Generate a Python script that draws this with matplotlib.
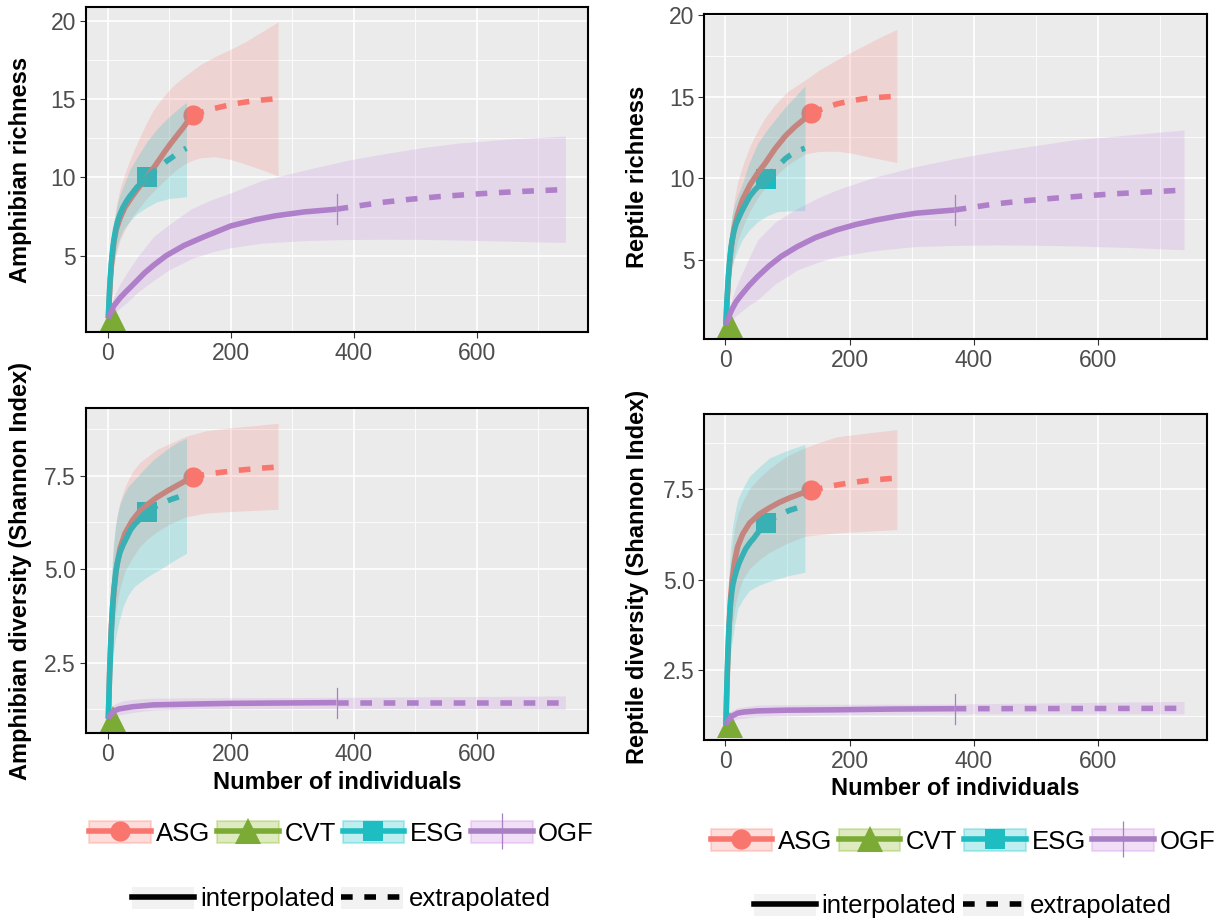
import matplotlib
matplotlib.use('Agg')
import matplotlib.pyplot as plt
from matplotlib.patches import Patch
from matplotlib.lines import Line2D
from matplotlib.legend_handler import HandlerTuple
from matplotlib.ticker import FixedLocator, FixedFormatter

plt.rcParams['font.family'] = ['Liberation Sans', 'DejaVu Sans']

# ---------------- data ----------------
sites = ['ASG', 'CVT', 'ESG', 'OGF']
methods = ['interpolated', 'extrapolated']
line_colors = ['#F8766D', '#7BAA35', '#1DBDC2', '#A97FC4']
band_colors = ['#F8766D', '#7CAE00', '#00BFC4', '#C882E1']
x_ticks = [0, 200, 400, 600]
x_ticklabels = ['0', '200', '400', '600']
rich_ticks = [5, 10, 15, 20]
rich_ticklabels = ['5', '10', '15', '20']
div_ticks = [2.5, 5.0, 7.5]
div_ticklabels = ['2.5', '5.0', '7.5']

# Amphibian richness
amph_rich_ASG = dict(
    ix=[1, 2, 4, 6, 8, 10, 14, 20, 28, 40, 52, 64, 78, 91, 102, 113, 124, 132, 138],
    iy=[1, 1.9, 3.3, 4.4, 5.2, 5.9, 6.7, 7.4, 8.1, 8.8, 9.45, 10.05, 10.8, 11.55, 12.15, 12.7, 13.25, 13.7, 14.0],
    ex=[138, 156, 174, 196, 217, 234, 250, 264, 276],
    ey=[14.0, 14.22, 14.42, 14.62, 14.78, 14.88, 14.95, 15.0, 15.05],
    cx=[1, 3, 5, 8, 10, 15, 20, 31, 40, 50, 62, 74, 87, 100, 112, 124, 138, 150, 174, 200, 224, 250, 277],
    lo=[1, 1.8, 2.6, 3.8, 4.4, 5.3, 6.0, 6.9, 7.5, 8.0, 8.6, 9.1, 9.6, 10.1, 10.5, 10.85, 11.1, 11.25,
        11.33, 11.15, 10.85, 10.5, 10.1],
    hi=[1, 3.5, 5.0, 6.5, 7.2, 8.4, 9.3, 10.6, 11.5, 12.4, 13.4, 14.3, 15.0, 15.6, 16.05, 16.44, 16.85,
        17.2, 17.72, 18.2, 18.68, 19.3, 19.95])
amph_rich_CVT = dict(ix=[1, 8], iy=[1, 1], ex=[8, 16], ey=[1, 1],
                     cx=[1, 16], lo=[1, 1], hi=[1, 1])
amph_rich_ESG = dict(
    ix=[1, 2, 3, 4, 6, 8, 10, 13, 16, 20, 25, 30, 36, 42, 48, 56, 64],
    iy=[1, 1.9, 2.8, 3.5, 4.6, 5.4, 6.0, 6.7, 7.2, 7.65, 8.1, 8.45, 8.8, 9.1, 9.4, 9.7, 10.0],
    ex=[64, 72, 80, 88, 96, 104, 112, 120, 128],
    ey=[10.0, 10.3, 10.55, 10.8, 11.05, 11.27, 11.5, 11.7, 11.87],
    cx=[1, 2, 4, 6, 10, 15, 20, 26, 36, 48, 64, 80, 100, 115, 128],
    lo=[1, 1.5, 2.6, 3.5, 4.6, 5.6, 6.2, 6.7, 7.2, 7.7, 8.1, 8.45, 8.65, 8.72, 8.77],
    hi=[1, 2.5, 4.3, 5.6, 7.0, 8.2, 8.9, 9.5, 10.5, 11.3, 12.3, 13.1, 13.9, 14.4, 14.8])
amph_rich_OGF = dict(
    ix=[1, 5, 10, 20, 31, 45, 60, 75, 95, 124, 156, 200, 240, 273, 320, 372],
    iy=[1, 1.4, 1.8, 2.3, 2.75, 3.3, 3.9, 4.4, 5.0, 5.65, 6.2, 6.9, 7.3, 7.55, 7.8, 7.97],
    ex=[372, 410, 447, 490, 540, 590, 634, 680, 727, 744],
    ey=[7.97, 8.2, 8.41, 8.6, 8.78, 8.92, 9.03, 9.12, 9.2, 9.23],
    cx=[1, 5, 10, 20, 31, 50, 74, 100, 136, 170, 199, 250, 323, 390, 447, 510, 571, 650, 744],
    lo=[1, 1.15, 1.3, 1.65, 2.0, 2.7, 3.4, 4.1, 4.8, 5.25, 5.5, 5.8, 5.97, 6.03, 6.05, 6.04, 6.0, 5.93, 5.84],
    hi=[1, 1.8, 2.4, 3.2, 3.9, 5.0, 6.2, 7.0, 8.0, 8.6, 9.0, 9.8, 10.5, 11.1, 11.5, 11.9, 12.2, 12.45, 12.65])

# Amphibian diversity
amph_div_ASG = dict(
    ix=[1, 2, 3, 4, 6, 8, 10, 14, 20, 28, 40, 52, 64, 80, 100, 120, 138],
    iy=[1, 1.6, 2.2, 2.7, 3.5, 4.0, 4.4, 5.0, 5.55, 5.95, 6.3, 6.55, 6.72, 6.92, 7.12, 7.3, 7.47],
    ex=[138, 155, 170, 190, 210, 230, 250, 276], ey=[7.47, 7.52, 7.56, 7.6, 7.64, 7.67, 7.7, 7.73],
    cx=[1, 2, 3, 4, 6, 8, 10, 14, 20, 28, 40, 52, 64, 80, 100, 127, 160, 200, 240, 277],
    lo=[1, 1.3, 1.6, 2.0, 2.6, 3.0, 3.4, 4.0, 4.5, 4.95, 5.3, 5.6, 5.8, 6.0, 6.2, 6.4, 6.5, 6.54, 6.57, 6.6],
    hi=[1, 2.2, 3.0, 3.7, 4.6, 5.2, 5.7, 6.3, 6.8, 7.2, 7.6, 7.85, 8.0, 8.2, 8.35, 8.55, 8.7, 8.78, 8.84, 8.9])
amph_div_CVT = dict(ix=[1, 8], iy=[1, 1], ex=[8, 16], ey=[1, 1],
                    cx=[1, 16], lo=[1, 1], hi=[1, 1])
amph_div_ESG = dict(
    ix=[1, 2, 3, 4, 5, 6, 8, 10, 13, 16, 20, 25, 31, 37, 44, 50, 57, 64],
    iy=[1, 1.6, 2.15, 2.6, 3.0, 3.4, 4.0, 4.45, 4.9, 5.2, 5.45, 5.65, 5.85, 6.05, 6.2, 6.3, 6.43, 6.54],
    ex=[64, 77, 90, 104, 117, 128], ey=[6.54, 6.67, 6.78, 6.87, 6.94, 7.0],
    cx=[1, 2, 3, 4, 6, 9, 12, 15, 18.5, 25, 33, 43, 58, 74, 88, 100, 115, 128],
    lo=[1, 1.25, 1.5, 1.75, 2.2, 2.7, 3.1, 3.35, 3.6, 4.0, 4.3, 4.53, 4.72, 4.89, 5.02, 5.15, 5.3, 5.42],
    hi=[1, 2.3, 3.2, 3.9, 4.8, 5.6, 6.1, 6.4, 6.67, 6.95, 7.2, 7.38, 7.65, 7.92, 8.1, 8.25, 8.4, 8.5])
amph_div_OGF = dict(
    ix=[1, 3, 5, 8, 12, 18, 25, 40, 74, 130, 199, 280, 372],
    iy=[1, 1.07, 1.12, 1.18, 1.22, 1.26, 1.28, 1.32, 1.37, 1.39, 1.41, 1.42, 1.43],
    ex=[372, 558, 744], ey=[1.43, 1.43, 1.43],
    cx=[1, 5, 12, 25, 50, 74, 150, 372, 744],
    lo=[1, 1.04, 1.08, 1.12, 1.19, 1.23, 1.26, 1.28, 1.25],
    hi=[1, 1.3, 1.4, 1.48, 1.53, 1.55, 1.56, 1.57, 1.61])

# Reptile richness
rept_rich_ASG = dict(
    ix=[1, 2, 3, 5, 7, 10, 14, 20, 28, 40, 52, 64, 80, 97, 112, 128, 138],
    iy=[1, 1.9, 2.6, 3.9, 4.9, 5.9, 6.9, 7.8, 8.7, 9.6, 10.3, 10.9, 11.8, 12.6, 13.15, 13.65, 14.0],
    ex=[138, 160, 180, 200, 220, 240, 260, 276], ey=[14.0, 14.3, 14.55, 14.72, 14.85, 14.93, 14.98, 15.02],
    cx=[1, 3, 5, 8, 10, 15, 20, 30, 40, 52, 64, 80, 100, 128, 150, 179, 204, 230, 250, 276],
    lo=[1, 2.0, 2.8, 3.8, 4.4, 5.4, 6.2, 7.2, 8.0, 8.8, 9.4, 10.1, 10.8, 11.48, 11.63, 11.65, 11.52,
        11.3, 11.15, 10.95],
    hi=[1, 3.6, 5.0, 6.6, 7.5, 8.8, 9.8, 11.0, 12.0, 12.9, 13.7, 14.5, 15.3, 16.0, 16.6, 17.24, 17.75,
        18.26, 18.65, 19.12])
rept_rich_CVT = dict(ix=[1, 8], iy=[1, 1], ex=[8, 16], ey=[1, 1],
                     cx=[1, 16], lo=[1, 1], hi=[1, 1])
rept_rich_ESG = dict(
    ix=[1, 2, 3, 4, 5, 7, 9, 11, 14, 17, 20, 25, 31, 39, 47, 56, 65],
    iy=[1, 2.0, 2.75, 3.4, 4.0, 5.0, 5.7, 6.2, 6.75, 7.15, 7.43, 7.85, 8.3, 8.86, 9.25, 9.6, 9.94],
    ex=[65, 73, 80, 89, 97, 105, 113, 121, 128],
    ey=[9.94, 10.3, 10.6, 10.9, 11.2, 11.42, 11.6, 11.73, 11.83],
    cx=[1, 2, 4, 7, 10, 14, 20, 27, 38, 52, 68, 84, 100, 115, 128],
    lo=[1, 1.6, 2.3, 3.6, 4.4, 4.98, 5.6, 6.2, 6.8, 7.33, 7.7, 7.94, 7.98, 8.0, 8.0],
    hi=[1, 2.8, 4.5, 6.5, 7.6, 8.3, 8.95, 9.6, 10.9, 12.13, 13.0, 13.77, 14.5, 15.1, 15.65])
rept_rich_OGF = dict(
    ix=[1, 5, 10, 17, 25, 38, 52, 70, 90, 116, 145, 179, 210, 243, 275, 306, 340, 369],
    iy=[1, 1.45, 1.9, 2.4, 2.8, 3.4, 3.96, 4.6, 5.2, 5.8, 6.35, 6.82, 7.15, 7.43, 7.65, 7.84, 7.95, 8.04],
    ex=[369, 400, 433, 480, 528, 576, 624, 672, 722, 738],
    ey=[8.04, 8.22, 8.41, 8.6, 8.76, 8.9, 9.03, 9.13, 9.23, 9.26],
    cx=[1, 5, 10, 17, 25, 38, 52, 80, 116, 150, 179, 240, 306, 370, 433, 500, 560, 650, 738],
    lo=[1, 1.1, 1.3, 1.55, 1.8, 2.2, 2.53, 3.5, 4.37, 4.85, 5.18, 5.55, 5.8, 5.87, 5.9, 5.88, 5.84, 5.74, 5.6],
    hi=[1, 1.9, 2.5, 3.3, 4.0, 5.1, 6.2, 7.3, 8.15, 8.8, 9.27, 10.05, 10.7, 11.2, 11.62, 12.0, 12.34, 12.65,
        12.95])

# Reptile diversity
rept_div_ASG = dict(
    ix=[1, 2, 3, 4, 6, 8, 11, 15, 20, 28, 39, 55, 71, 87, 103, 120, 138],
    iy=[1, 1.7, 2.3, 2.8, 3.7, 4.4, 5.0, 5.5, 5.91, 6.25, 6.55, 6.8, 6.97, 7.12, 7.24, 7.35, 7.45],
    ex=[138, 160, 180, 205, 230, 255, 276], ey=[7.45, 7.53, 7.6, 7.67, 7.72, 7.76, 7.79],
    cx=[1, 2, 3, 4, 6, 8, 11, 15, 20, 28, 39, 55, 71, 100, 128, 150, 179, 230, 276],
    lo=[1, 1.3, 1.7, 2.1, 2.7, 3.2, 3.7, 4.2, 4.6, 5.0, 5.3, 5.55, 5.75, 6.0, 6.19, 6.23, 6.28, 6.33, 6.37],
    hi=[1, 2.2, 3.0, 3.7, 4.6, 5.3, 5.9, 6.4, 6.8, 7.15, 7.5, 7.8, 8.05, 8.4, 8.62, 8.76, 8.92, 9.03, 9.12])
rept_div_CVT = dict(ix=[1, 8], iy=[1, 1], ex=[8, 16], ey=[1, 1],
                    cx=[1, 16], lo=[1, 1], hi=[1, 1])
rept_div_ESG = dict(
    ix=[1, 2, 3, 4, 5, 6, 8, 10, 12, 14, 18, 22, 27, 33, 40, 46, 55, 65],
    iy=[1, 1.75, 2.4, 2.95, 3.4, 3.75, 4.25, 4.6, 4.85, 5.0, 5.25, 5.45, 5.64, 5.85, 6.02, 6.14, 6.35, 6.55],
    ex=[65, 77, 90, 103, 116, 128], ey=[6.55, 6.69, 6.8, 6.9, 6.97, 7.02],
    cx=[1, 2, 3, 4, 6, 8, 11, 15, 20, 28, 39, 55, 71, 100, 128],
    lo=[1, 1.2, 1.6, 1.9, 2.5, 2.9, 3.3, 3.75, 4.2, 4.45, 4.7, 4.85, 4.95, 5.1, 5.2],
    hi=[1, 2.5, 3.5, 4.3, 5.2, 5.8, 6.37, 6.8, 7.2, 7.5, 7.84, 8.1, 8.34, 8.55, 8.71])
rept_div_OGF = dict(
    ix=[1, 3, 5, 8, 12, 20, 30, 52, 100, 179, 270, 369],
    iy=[1, 1.08, 1.15, 1.21, 1.26, 1.33, 1.36, 1.39, 1.41, 1.42, 1.44, 1.45],
    ex=[369, 553, 738], ey=[1.45, 1.455, 1.46],
    cx=[1, 5, 10, 20, 52, 150, 369, 738],
    lo=[1, 1.05, 1.1, 1.17, 1.23, 1.28, 1.31, 1.31],
    hi=[1, 1.3, 1.4, 1.48, 1.55, 1.57, 1.58, 1.65])

# ---------------- layout ----------------
W, H = 1218, 921
fig = plt.figure(figsize=(W / 100, H / 100), dpi=100)


def rect(l, r, t, b):
    return [l / W, 1 - b / H, (r - l) / W, (b - t) / H]


markers = ['o', '^', 's', '+']
msizes = [14.5, 19, 15, 22]
DASH = (0, (2.1, 2.1))
LW = 4.0


def draw_panel(ax, data, xlim, ylim, yticks, yticklabels, yminor, plus_half):
    ax.set_facecolor('#EBEBEB')
    for i, d in enumerate(data):
        if markers[i] == '+':
            ax.plot([d['ix'][-1], d['ix'][-1]], [d['iy'][-1] - plus_half, d['iy'][-1] + plus_half],
                    color=line_colors[i], lw=0.9, zorder=3)
        else:
            ax.plot([d['ix'][-1]], [d['iy'][-1]], ls='none', marker=markers[i], ms=msizes[i],
                    color=line_colors[i], mew=0, zorder=3)
    for i, d in enumerate(data):
        ax.plot(d['ix'], d['iy'], color=line_colors[i], lw=LW, solid_capstyle='butt',
                solid_joinstyle='round', zorder=4)
        ax.plot(d['ex'], d['ey'], color=line_colors[i], lw=LW, ls=DASH, dash_capstyle='butt', zorder=4)
    for i, d in enumerate(data):
        ax.fill_between(d['cx'], d['lo'], d['hi'], color=band_colors[i], alpha=0.2, lw=0, zorder=5)
    ax.set_xlim(*xlim)
    ax.set_ylim(*ylim)
    ax.xaxis.set_major_locator(FixedLocator(x_ticks))
    ax.xaxis.set_major_formatter(FixedFormatter(x_ticklabels))
    ax.xaxis.set_minor_locator(FixedLocator([100, 300, 500, 700]))
    ax.yaxis.set_major_locator(FixedLocator(yticks))
    ax.yaxis.set_major_formatter(FixedFormatter(yticklabels))
    ax.yaxis.set_minor_locator(FixedLocator(yminor))
    ax.set_axisbelow(True)
    ax.grid(which='major', color='white', lw=1.2, zorder=0)
    ax.grid(which='minor', color='white', lw=0.6, zorder=0)
    ax.tick_params(which='major', direction='out', length=4, width=0.8, color='#333333',
                   labelsize=16.5, labelcolor='#4D4D4D', pad=3)
    ax.tick_params(which='minor', length=0)
    for sp in ax.spines.values():
        sp.set_color('black')
        sp.set_linewidth(1.5)
        sp.set_zorder(10)


ax_tl = fig.add_axes(rect(85.7, 588.3, 7.3, 332.3))
ax_tr = fig.add_axes(rect(704.2, 1206.7, 14, 339))
ax_bl = fig.add_axes(rect(85.7, 588.3, 408.3, 733.3))
ax_br = fig.add_axes(rect(704.2, 1206.7, 414.3, 740))

rich_minor = [2.5, 7.5, 12.5, 17.5]
div_minor = [1.25, 3.75, 6.25, 8.75]

draw_panel(ax_tl, [amph_rich_ASG, amph_rich_CVT, amph_rich_ESG, amph_rich_OGF],
           (-35.8, 781.3), (0.1, 20.88), rich_ticks, rich_ticklabels, rich_minor, 0.95)
draw_panel(ax_tr, [rept_rich_ASG, rept_rich_CVT, rept_rich_ESG, rept_rich_OGF],
           (-34, 774.5), (0.13, 20.06), rich_ticks, rich_ticklabels, rich_minor, 0.9)
draw_panel(ax_bl, [amph_div_ASG, amph_div_CVT, amph_div_ESG, amph_div_OGF],
           (-35.8, 781.3), (0.61, 9.30), div_ticks, div_ticklabels, div_minor, 0.4)
draw_panel(ax_br, [rept_div_ASG, rept_div_CVT, rept_div_ESG, rept_div_OGF],
           (-34, 774.5), (0.59, 9.54), div_ticks, div_ticklabels, div_minor, 0.41)

# axis titles
tfs = 17
fig.text(21 / W, 1 - 170 / H, 'Amphibian richness', rotation=90, ha='center', va='center',
         fontsize=tfs, fontweight='bold')
fig.text(637.6 / W, 1 - 176.7 / H, 'Reptile richness', rotation=90, ha='center', va='center',
         fontsize=tfs, fontweight='bold')
fig.text(21 / W, 1 - 570.8 / H, 'Amphibian diversity (Shannon Index)', rotation=90, ha='center',
         va='center', fontsize=tfs, fontweight='bold')
fig.text(637.6 / W, 1 - 577.2 / H, 'Reptile diversity (Shannon Index)', rotation=90, ha='center',
         va='center', fontsize=tfs, fontweight='bold')
fig.text(337 / W, 1 - 782.5 / H, 'Number of individuals', ha='center', va='center',
         fontsize=tfs, fontweight='bold')
fig.text(955.5 / W, 1 - 788.5 / H, 'Number of individuals', ha='center', va='center',
         fontsize=tfs, fontweight='bold')

# legends
lfs = 18.5


def site_handles():
    hs = []
    for i in range(4):
        box = Patch(facecolor=band_colors[i], alpha=0.25, edgecolor=band_colors[i], lw=1.5)
        if markers[i] == '+':
            ln = Line2D([], [], color=line_colors[i], lw=LW, marker='|', ms=26, mew=0.9)
        else:
            ln = Line2D([], [], color=line_colors[i], lw=LW, marker=markers[i], ms=msizes[i], mew=0)
        hs.append((box, ln))
    return hs


def method_handles():
    bg1 = Patch(facecolor='#F2F2F2', edgecolor='none')
    bg2 = Patch(facecolor='#F2F2F2', edgecolor='none')
    return [(bg1, Line2D([], [], color='black', lw=LW)),
            (bg2, Line2D([], [], color='black', lw=LW, ls=DASH))]


common = dict(loc='center', frameon=False, borderpad=0, fontsize=lfs,
              handlelength=2.4, handleheight=0.95, handletextpad=0.22, columnspacing=0.26,
              handler_map={tuple: HandlerTuple(ndivide=1, pad=0)})

fig.legend(site_handles(), sites, ncol=4, bbox_to_anchor=(341.5 / W, 1 - 833.5 / H), **common)
fig.legend(method_handles(), methods, ncol=2, bbox_to_anchor=(341.5 / W, 1 - 899 / H), **common)
fig.legend(site_handles(), sites, ncol=4, bbox_to_anchor=(963 / W, 1 - 841.7 / H), **common)
fig.legend(method_handles(), methods, ncol=2, bbox_to_anchor=(963 / W, 1 - 906 / H), **common)

fig.savefig('out.png', dpi=100)
